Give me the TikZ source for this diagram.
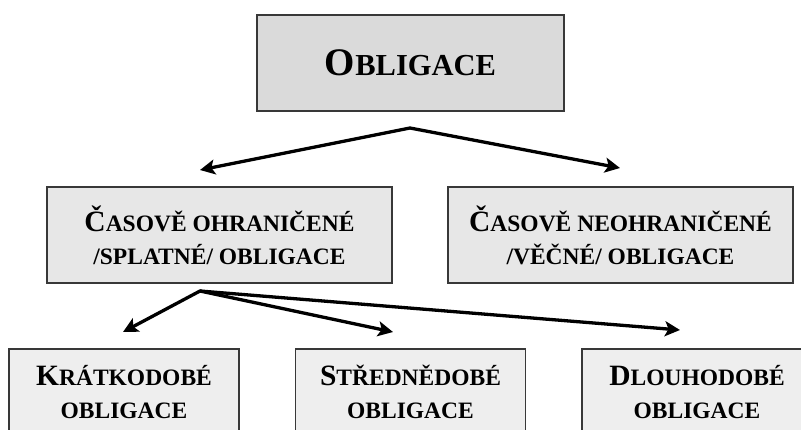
\documentclass[tikz,border=0pt]{standalone}
\usepackage{fontspec}
\setmainfont{Liberation Serif}
\usetikzlibrary{arrows.meta}
\newcommand\capA[1]{{\fontsize{39}{39}\selectfont #1}}
\newcommand\capB[1]{{\fontsize{29.5}{33}\selectfont #1}}
\definecolor{fillA}{gray}{0.855}
\definecolor{fillB}{gray}{0.905}
\definecolor{fillC}{gray}{0.935}
\definecolor{edge}{gray}{0.22}
\tikzset{
  x=1pt, y=-1pt,
  box/.style={draw=edge, line width=1.8pt, inner sep=0pt, align=center,
    font=\bfseries\fontsize{23.5}{33}\selectfont},
  rootbox/.style={box, fill=fillA, minimum width=307pt, minimum height=96pt,
    font=\bfseries\fontsize{30.5}{36}\selectfont},
  midbox/.style={box, fill=fillB, minimum width=345pt, minimum height=96pt},
  leafbox/.style={box, fill=fillC, minimum width=230pt, minimum height=86pt},
  arr/.style={line width=3.3pt, -{Stealth[length=15pt,width=15pt,inset=3.5pt]}},
  darr/.style={line width=3.3pt, {Stealth[length=15pt,width=15pt,inset=3.5pt]}-{Stealth[length=15pt,width=15pt,inset=3.5pt]}, line join=miter}
}
\begin{document}
\begin{tikzpicture}
\useasboundingbox (0,0) rectangle (801,429);
\fill[white] (0,0) rectangle (801,429);
\clip (0,0) rectangle (801,429);

\node[rootbox] (root) at (410.5,63) {\capA{O}BLIGACE};
\node[midbox] (timed) at (219.5,235) {\capB{Č}ASOVĚ OHRANIČENÉ\\/SPLATNÉ/ OBLIGACE};
\node[midbox] (perp) at (620.5,235) {\capB{Č}ASOVĚ NEOHRANIČENÉ\\/VĚČNÉ/ OBLIGACE};
\node[leafbox] (short) at (124,392) {\capB{K}RÁTKODOBÉ\\OBLIGACE};
\node[leafbox] (medium) at (410.5,392) {\capB{S}TŘEDNĚDOBÉ\\OBLIGACE};
\node[leafbox] (long) at (697,392) {\capB{D}LOUHODOBÉ\\OBLIGACE};

\coordinate (rootapex) at (410,128);
\coordinate (timedtip) at (200,170);
\coordinate (perptip) at (620,168);
\coordinate (timedapex) at (200,291);
\coordinate (shorttip) at (123,332);
\coordinate (mediumtip) at (393,332);
\coordinate (longtip) at (680,330);

\draw[darr] (timedtip) -- (rootapex) -- (perptip);
\draw[arr, line cap=round] (timedapex) -- (shorttip);
\draw[arr, line cap=round] (timedapex) -- (mediumtip);
\draw[arr, line cap=round] (timedapex) -- (longtip);
\end{tikzpicture}
\end{document}
